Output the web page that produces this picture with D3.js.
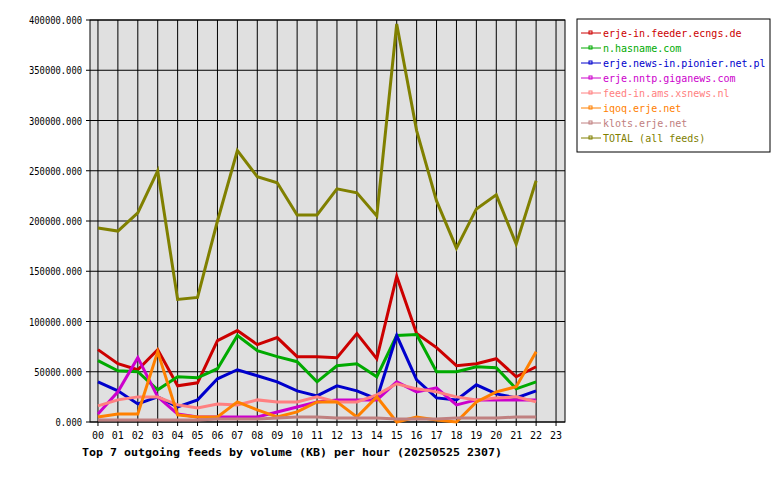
<!DOCTYPE html><html><head><meta charset="utf-8"><script src="https://cdn.jsdelivr.net/npm/d3@7"></script>
<style>body{margin:0;background:#fff}text{font-family:"DejaVu Sans Mono",monospace;font-size:10px}</style></head><body><svg id="c" width="780" height="480"></svg><script>
const hours=["00","01","02","03","04","05","06","07","08","09","10","11","12","13","14","15","16","17","18","19","20","21","22","23"];
const yTicks=[0,50000,100000,150000,200000,250000,300000,350000,400000];
const names=["erje-in.feeder.ecngs.de","n.hasname.com","erje.news-in.pionier.net.pl","erje.nntp.giganews.com","feed-in.ams.xsnews.nl","iqoq.erje.net","klots.erje.net","TOTAL (all feeds)"];
const colors=["#cc0000","#00aa00","#0000cc","#cc00cc","#ff8080","#ff8000","#c08080","#808000"];
const red=[72,58,52,72,36,39,81,91,77,84,65,65,64,88,63,145,88,74,56,58,63,45,55];
const green=[61,51,50,32,45,44,53,86,71,65,60,40,56,58,45,86,87,50,50,55,54,33,40];
const blue=[40,31,18,25,15,22,43,52,46,40,31,26,36,31,23,86,42,24,22,37,28,24,31];
const magenta=[8,30,64,25,8,5,5,5,5,10,15,20,22,22,22,40,30,34,17,22,22,22,22];
const pink=[16,22,25,25,17,14,18,17,22,20,20,25,20,20,27,38,33,30,25,22,24,25,20];
const orange=[5,8,8,70,7,5,5,20,12,5,10,20,20,5,25,0,5,2,0,20,30,35,70];
const brown=[2,2,2,2,2,2,3,3,3,4,5,5,4,4,4,3,3,3,4,4,4,5,5];
const total=[193,190,208,250,122,124,200,270,244,238,206,206,232,228,205,396,290,220,173,212,226,177,240];
const series=[red,green,blue,magenta,pink,orange,brown,total];
const svg=d3.select("#c");
const x=d3.scaleLinear().domain([-0.4,23.45]).range([90,565]);
const y=d3.scaleLinear().domain([0,400000]).range([422,20]);
svg.append("rect").attr("x",90).attr("y",20).attr("width",475).attr("height",402).attr("fill","#e0e0e0");
hours.forEach((h,i)=>{svg.append("line").attr("x1",x(i)).attr("x2",x(i)).attr("y1",20).attr("y2",426).attr("stroke","#000");
 svg.append("text").attr("x",x(i)).attr("y",439).attr("text-anchor","middle").attr("font-size",10.5).text(h);});
yTicks.forEach(v=>{svg.append("line").attr("x1",86).attr("x2",565).attr("y1",y(v)).attr("y2",y(v)).attr("stroke","#000");
 svg.append("text").attr("x",82).attr("y",y(v)+4).attr("text-anchor","end").attr("textLength",(String(v).length+4)*5.3).attr("lengthAdjust","spacingAndGlyphs").text(v+".000");});
svg.append("rect").attr("x",90).attr("y",20).attr("width",475).attr("height",402).attr("fill","none").attr("stroke","#000");
const line=d3.line().x((d,i)=>x(i)).y(d=>y(d*1000));
series.forEach((s,k)=>svg.append("path").attr("d",line(s)).attr("fill","none").attr("stroke",colors[k]).attr("stroke-width",3));
svg.append("text").attr("x",82).attr("y",456).attr("font-weight","bold").attr("font-size",11).attr("textLength",420).attr("lengthAdjust","spacingAndGlyphs").text("Top 7 outgoing feeds by volume (KB) per hour (20250525 2307)");
svg.append("rect").attr("x",577).attr("y",19).attr("width",193).attr("height",133).attr("fill","#fff").attr("stroke","#000");
names.forEach((n,k)=>{const yy=33+k*15;
 svg.append("line").attr("x1",581).attr("x2",601).attr("y1",yy).attr("y2",yy).attr("stroke",colors[k]);
 svg.append("rect").attr("x",589).attr("y",yy-2).attr("width",3).attr("height",3).attr("fill","none").attr("stroke",colors[k]);
 svg.append("text").attr("x",603).attr("y",yy+4).attr("fill",colors[k]).text(n);});
</script></body></html>
